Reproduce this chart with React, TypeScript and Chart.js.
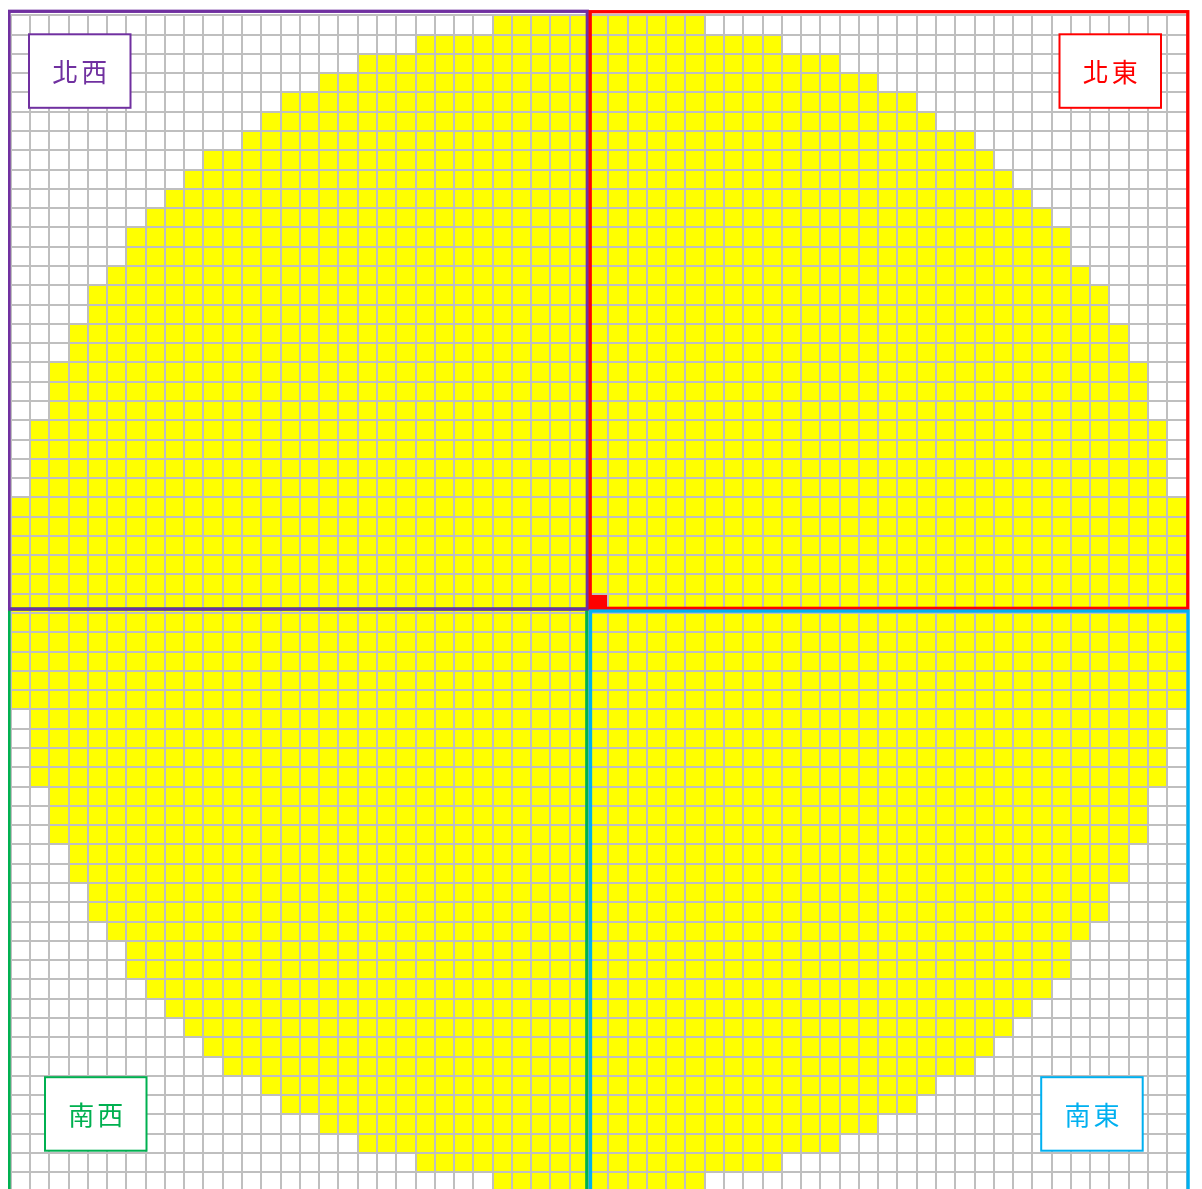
import React, { useEffect, useRef } from "react";
import { Chart, registerables } from "chart.js";

Chart.register(...registerables);

// Row index of every grid row (top to bottom), relative to the centre (red) cell
const rowIndex = [
  30, 29, 28, 27, 26, 25, 24, 23, 22, 21, 20, 19, 18, 17, 16, 15, 14, 13, 12, 11,
  10, 9, 8, 7, 6, 5, 4, 3, 2, 1, 0,
  -1, -2, -3, -4, -5, -6, -7, -8, -9, -10, -11, -12, -13, -14, -15, -16, -17, -18, -19, -20,
  -21, -22, -23, -24, -25, -26, -27, -28, -29, -30,
];

// First yellow column in each row
const rowStartCol = [
  -5, -9, -12, -14, -16, -17, -18, -20, -21, -22, -23, -24, -24, -25, -26, -26, -27, -27, -28, -28,
  -28, -29, -29, -29, -29, -30, -30, -30, -30, -30, -30,
  -30, -30, -30, -30, -30, -29, -29, -29, -29, -28, -28, -28, -27, -27, -26, -26, -25, -24, -24, -23,
  -22, -21, -20, -19, -17, -16, -14, -12, -9, -5,
];

// Last yellow column in each row
const rowEndCol = [
  5, 9, 12, 14, 16, 17, 19, 20, 21, 22, 23, 24, 24, 25, 26, 26, 27, 27, 28, 28,
  28, 29, 29, 29, 29, 30, 30, 30, 30, 30, 30,
  30, 30, 30, 30, 30, 29, 29, 29, 29, 28, 28, 28, 27, 27, 26, 26, 25, 24, 24, 23,
  22, 21, 20, 19, 17, 16, 14, 12, 9, 5,
];

// Centre cell
const centerCol = 0;
const centerRow = 0;

// Grid extent (cell boundaries)
const colMin = -30;
const colMax = 31;
const rowMin = -30;
const rowMax = 31;

// Quadrant labels
const labelNW = "北西";
const labelNE = "北東";
const labelSW = "南西";
const labelSE = "南東";

const PURPLE = "#7030A0";
const RED = "#FF0000";
const GREEN = "#00B050";
const BLUE = "#00B0F0";
const YELLOW = "#FFFF00";
const GRID = "#bfbfbf";

const framePlugin = {
  id: "quadrantFrames",
  afterDraw(chart: any) {
    const { ctx } = chart;
    const xs = chart.scales.x;
    const ys = chart.scales.y;
    const L = xs.getPixelForValue(colMin);
    const R = xs.getPixelForValue(colMax);
    const cx = xs.getPixelForValue(centerCol);
    const T = ys.getPixelForValue(rowMax);
    const B = ys.getPixelForValue(rowMin);
    const cy = ys.getPixelForValue(centerRow);

    ctx.save();
    const rect = (color: string, x1: number, y1: number, x2: number, y2: number) => {
      ctx.strokeStyle = color;
      ctx.lineWidth = 3.3;
      ctx.strokeRect(x1, y1, x2 - x1, y2 - y1);
    };
    rect(GREEN, L - 1.7, cy - 4, cx - 2.2, B + 3);
    rect(PURPLE, L - 1.7, T - 4, cx - 1.7, cy - 4);
    rect(RED, cx + 1.2, T - 3.6, R + 1.2, cy - 4.7);
    rect(BLUE, cx + 1.5, cy - 2, R + 1.5, B + 3);

    const BW = 101.5;
    const BH = 73.5;
    const box = (text: string, color: string, left: number, top: number) => {
      ctx.fillStyle = "#ffffff";
      ctx.fillRect(left, top, BW, BH);
      ctx.strokeStyle = color;
      ctx.lineWidth = 2;
      ctx.strokeRect(left, top, BW, BH);
      ctx.fillStyle = color;
      ctx.font = '26px "Noto Sans CJK TC"';
      ctx.textBaseline = "middle";
      ctx.textAlign = "left";
      const chars = Array.from(text);
      const gap = 3;
      const widths = chars.map((c) => ctx.measureText(c).width);
      const total = widths.reduce((a, b) => a + b, 0) + gap * (chars.length - 1);
      let x = left + BW / 2 - total / 2;
      const y = top + BH / 2 + 1;
      chars.forEach((c, i) => {
        ctx.fillText(c, x, y);
        x += widths[i] + gap;
      });
    };
    box(labelNW, PURPLE, L + 18.3, T + 19);
    box(labelNE, RED, R - 25.6 - BW, T + 19);
    box(labelSW, GREEN, L + 34.3, B - 40.8 - BH);
    box(labelSE, BLUE, R - 43.9 - BW, B - 40.8 - BH);
    ctx.restore();
  },
};

export default function App() {
  const canvasRef = useRef<HTMLCanvasElement | null>(null);

  useEffect(() => {
    if (!canvasRef.current) return;
    const cells = rowIndex.map((r, i) => ({ y: r + 0.5, x: [rowStartCol[i], rowEndCol[i] + 1] }));
    const centre = [{ y: centerRow + 0.5, x: [centerCol, centerCol + 1] }];

    const axis = (min: number, max: number, position: string) => ({
      type: "linear" as const,
      position,
      min,
      max,
      offset: false,
      ticks: { display: false, stepSize: 1 },
      grid: { color: GRID, lineWidth: 2, drawTicks: false, z: 1, offset: false },
      border: { display: false },
    });

    const chart = new Chart(canvasRef.current, {
      type: "bar",
      data: {
        datasets: [
          {
            label: "area",
            data: cells as any,
            backgroundColor: YELLOW,
            borderWidth: 0,
            grouped: false,
            barPercentage: 1,
            categoryPercentage: 1,
            order: 2,
          } as any,
          {
            label: "centre",
            data: centre as any,
            backgroundColor: RED,
            borderWidth: 0,
            grouped: false,
            barPercentage: 1,
            categoryPercentage: 1,
            order: 1,
          } as any,
        ],
      },
      options: {
        indexAxis: "y",
        animation: false,
        responsive: true,
        maintainAspectRatio: false,
        layout: { padding: { left: 6.7, right: 7.4, top: 7.3, bottom: 6.5 } },
        plugins: {
          legend: { display: false },
          tooltip: { enabled: false },
          title: { display: false },
        },
        scales: {
          x: axis(colMin, colMax, "bottom") as any,
          y: axis(rowMin, rowMax, "left") as any,
        },
      },
      plugins: [framePlugin],
    });
    return () => chart.destroy();
  }, []);

  return (
    <div style={{ position: "relative", width: 1190, height: 1190, marginLeft: -4 }}>
      <canvas ref={canvasRef} />
    </div>
  );
}
